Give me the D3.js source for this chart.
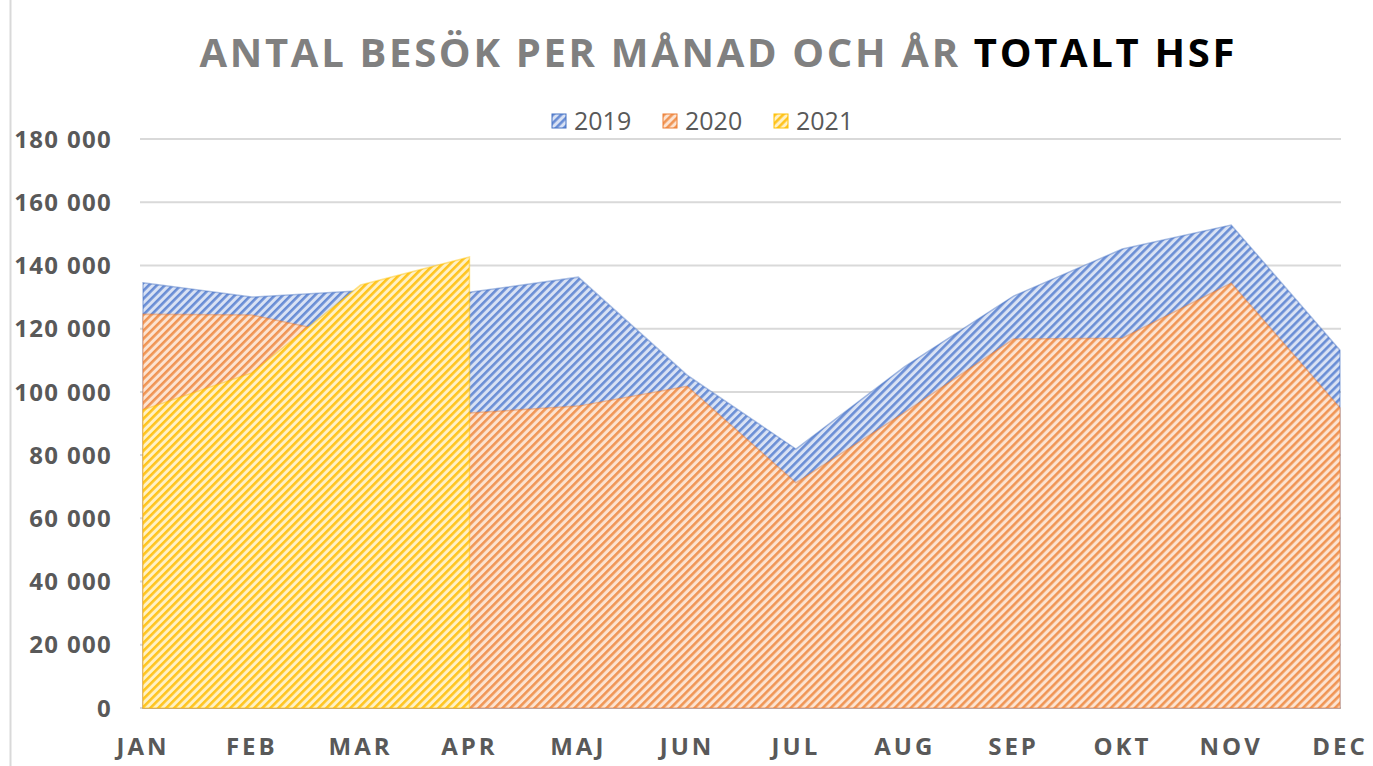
<!DOCTYPE html>
<html>
<head>
<meta charset="utf-8">
<script src="https://cdn.jsdelivr.net/npm/d3@7"></script>
<style>
  body { margin: 0; background: #fff; }
  svg { display: block; font-family: 'Open Sans', sans-serif; }
</style>
</head>
<body>
<div id="chart"></div>
<script>
// data
var months = ['JAN', 'FEB', 'MAR', 'APR', 'MAJ', 'JUN', 'JUL', 'AUG', 'SEP', 'OKT', 'NOV', 'DEC']
var visits2019 = [134500, 130000, 132000, 131500, 136300, 105300, 81900, 108000, 130300, 145200, 152800, 113200]
var visits2020 = [124600, 124300, 117000, 93300, 95500, 101800, 71200, 93500, 116700, 117000, 134400, 94900]
var visits2021 = [94300, 106000, 133800, 142700]
var yTicks = [0, 20000, 40000, 60000, 80000, 100000, 120000, 140000, 160000, 180000]

var width = 1373
var height = 766

var svg = d3.select('#chart')
  .append('svg')
  .attr('width', width)
  .attr('height', height)

// left frame line
svg.append('line')
  .attr('x1', 10.5).attr('x2', 10.5)
  .attr('y1', 0).attr('y2', height)
  .attr('stroke', '#d9d9d9')
  .attr('stroke-width', 2)

// hatch patterns
var series = [
  { name: '2019', values: visits2019, line: '#6a8ed5', bg: '#d9e2f4', edge: '#4472c4' },
  { name: '2020', values: visits2020, line: '#f09555', bg: '#fce3d1', edge: '#ed7d31' },
  { name: '2021', values: visits2021, line: '#ffc41f', bg: '#fff1c6', edge: '#ffc000' }
]

var defs = svg.append('defs')
series.forEach(s => {
  var p = defs.append('pattern')
    .attr('id', 'hatch' + s.name)
    .attr('patternUnits', 'userSpaceOnUse')
    .attr('width', 5.66)
    .attr('height', 5.66)
    .attr('patternTransform', 'rotate(45)')
  p.append('rect').attr('width', 5.66).attr('height', 5.66).attr('fill', s.bg)
  p.append('rect').attr('width', 2.6).attr('height', 5.66).attr('fill', s.line)
})

var x = d3.scalePoint().domain(months).range([143, 1340])
var y = d3.scaleLinear().domain([0, 180000]).range([708, 139])

// gridlines
svg.append('g')
  .selectAll('line')
  .data(yTicks)
  .enter()
  .append('line')
  .attr('x1', 140)
  .attr('x2', 1341)
  .attr('y1', d => y(d))
  .attr('y2', d => y(d))
  .attr('stroke', '#d9d9d9')
  .attr('stroke-width', 2)

// y labels
svg.append('g')
  .selectAll('text')
  .data(yTicks)
  .enter()
  .append('text')
  .attr('x', 112)
  .attr('y', d => y(d))
  .attr('dy', '0.36em')
  .attr('text-anchor', 'end')
  .attr('font-size', 24)
  .attr('font-weight', 'bold')
  .attr('letter-spacing', 1.3)
  .attr('fill', '#595959')
  .text(d => d3.format(',')(d).replace(/,/g, ' '))

// x labels
svg.append('g')
  .selectAll('text')
  .data(months)
  .enter()
  .append('text')
  .attr('x', d => x(d))
  .attr('y', 746)
  .attr('dy', '0.36em')
  .attr('text-anchor', 'middle')
  .attr('font-size', 24)
  .attr('font-weight', 'bold')
  .attr('letter-spacing', 3)
  .attr('fill', '#595959')
  .text(d => d)

// areas, 2019 at the back
var area = d3.area()
  .x((d, i) => x(months[i]))
  .y0(y(0))
  .y1(d => y(d))

svg.append('g')
  .selectAll('path')
  .data(series)
  .enter()
  .append('path')
  .attr('d', d => area(d.values))
  .attr('fill', d => 'url(#hatch' + d.name + ')')
  .attr('stroke', d => d.edge)
  .attr('stroke-opacity', 0.45)
  .attr('stroke-width', 1.5)

// title
var title = svg.append('text')
  .attr('x', 717)
  .attr('y', 67)
  .attr('text-anchor', 'middle')
  .attr('font-size', 40)
  .attr('font-weight', 'bold')
  .attr('textLength', 1035)
  .attr('lengthAdjust', 'spacing')
title.append('tspan').attr('fill', '#808080').text('ANTAL BESÖK PER MÅNAD OCH ÅR ')
title.append('tspan').attr('fill', '#000').text('TOTALT HSF')

// legend
var legendX = [552, 663, 774]
var legend = svg.append('g')
  .selectAll('g')
  .data(series)
  .enter()
  .append('g')
  .attr('transform', (d, i) => 'translate(' + legendX[i] + ',114)')

legend.append('rect')
  .attr('width', 14)
  .attr('height', 14)
  .attr('fill', d => 'url(#hatch' + d.name + ')')
  .attr('stroke', d => d.edge)
  .attr('stroke-width', 1)

legend.append('text')
  .attr('x', 22)
  .attr('y', 7)
  .attr('dy', '0.36em')
  .attr('font-size', 25)
  .attr('fill', '#595959')
  .text(d => d.name)
</script>
</body>
</html>
